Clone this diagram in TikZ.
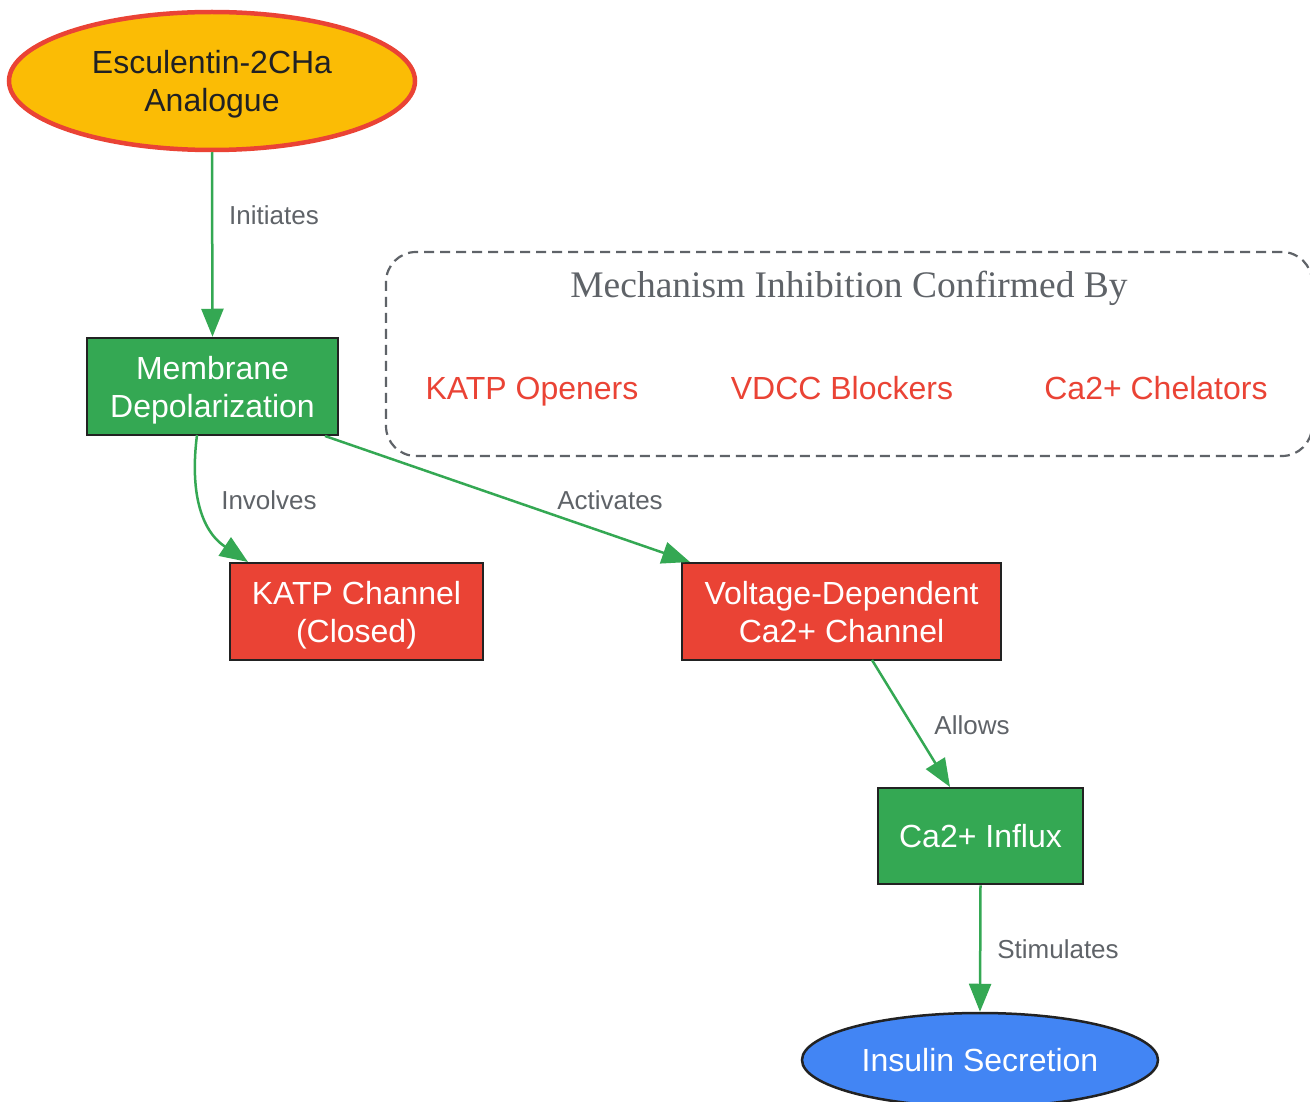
\documentclass[tikz,border=0pt]{standalone}
\usepackage{fontspec}
\setmainfont{Liberation Sans}
\newfontfamily\titlefont{Liberation Serif}
\usetikzlibrary{arrows.meta,shapes.geometric}
\definecolor{gamber}{HTML}{FBBC05}
\definecolor{gred}{HTML}{EA4335}
\definecolor{ggreen}{HTML}{34A853}
\definecolor{gblue}{HTML}{4285F4}
\definecolor{gdark}{HTML}{222222}
\definecolor{ggray}{HTML}{5F6368}
\definecolor{gtext}{HTML}{202124}
\tikzset{
  boxnode/.style={draw=gdark, line width=2.5pt, rectangle, inner sep=0pt, align=center,
    text=white, font=\fontsize{32}{38}\selectfont},
  twoline/.style={text depth=0pt},
  greenbox/.style={boxnode, fill=ggreen},
  redbox/.style={boxnode, fill=gred},
  conn/.style={draw=ggreen, line width=2.5pt, -{Triangle[length=28pt,width=22pt]}},
  elabel/.style={text=ggray, font=\fontsize{26}{30}\selectfont, inner sep=0pt},
  clabel/.style={text=gred, font=\fontsize{32}{38}\selectfont, inner sep=0pt, anchor=base},
}
\begin{document}
\begin{tikzpicture}[x=1pt,y=-1pt]
\useasboundingbox (0,0) rectangle (1310,1102);
\fill[white] (0,0) rectangle (1310,1102);
% cluster
\node[draw=ggray, line width=2.2pt, dash pattern=on 10pt off 6pt, rounded corners=30pt,
  minimum width=926pt, minimum height=204pt, inner sep=0pt] (cluster) at (849,354) {};
\node[text=ggray, font=\titlefont\fontsize{37.5}{44}\selectfont, inner sep=0pt, anchor=base] (ctitle) at (849,298) {Mechanism Inhibition Confirmed By};
\node[clabel] (katpo) at (532,399) {KATP Openers};
\node[clabel] (vdccb) at (842,399) {VDCC Blockers};
\node[clabel] (chel) at (1156,399) {Ca2+ Chelators};
% nodes
\node[ellipse, draw=gred, line width=4.5pt, fill=gamber, minimum width=406pt, minimum height=138pt,
  inner sep=0pt, align=center, text=gtext, font=\fontsize{32}{38}\selectfont, twoline] (esc) at (212,81) {Esculentin-2CHa\\Analogue};
\node[greenbox, twoline, minimum width=251pt, minimum height=97pt] (mem) at (212.5,386.5) {Membrane\\Depolarization};
\node[redbox, twoline, minimum width=253pt, minimum height=97pt] (katp) at (356.5,611.5) {KATP Channel\\(Closed)};
\node[redbox, twoline, minimum width=319pt, minimum height=97pt] (vdcc) at (841.5,611.5) {Voltage-Dependent\\Ca2+ Channel};
\node[greenbox, minimum width=205pt, minimum height=96pt] (influx) at (980.5,836) {Ca2+ Influx};
\node[ellipse, draw=gdark, line width=2.5pt, fill=gblue, minimum width=356pt, minimum height=94pt,
  inner sep=0pt, text=white, font=\fontsize{32}{38}\selectfont] (ins) at (980,1060) {Insulin Secretion};
% connectors
\coordinate (invs) at (197,435);
\coordinate (inve) at (248,562);
\coordinate (acts) at (325,436);
\coordinate (acte) at (690,562);
\coordinate (alls) at (872,660);
\coordinate (alle) at (950,787);
\path[conn] (esc.south) -- (mem.north);
\path[conn] (invs) .. controls (190,490) and (200,530) .. (inve);
\path[conn] (acts) -- (acte);
\path[conn] (alls) -- (alle);
\path[conn] (influx.south) -- (ins.north);
% edge labels
\node[elabel, anchor=west] (l1) at (229,215) {Initiates};
\node[elabel] (l2) at (269,500) {Involves};
\node[elabel] (l3) at (610,500) {Activates};
\node[elabel] (l4) at (972,725) {Allows};
\node[elabel] (l5) at (1058,949) {Stimulates};
\end{tikzpicture}
\end{document}
